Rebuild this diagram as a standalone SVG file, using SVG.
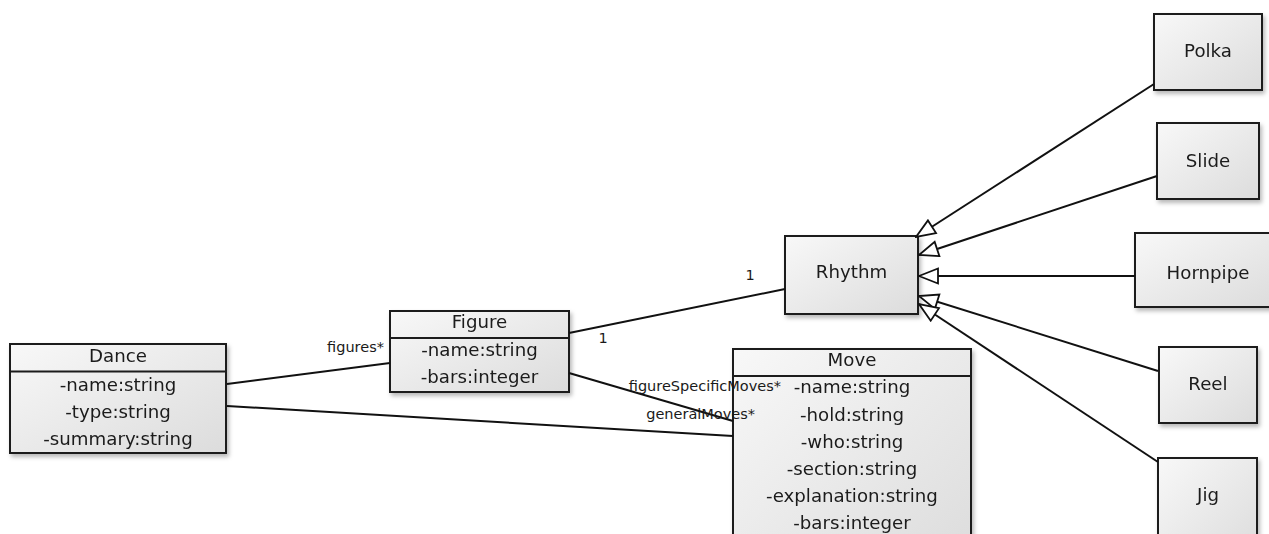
<svg xmlns="http://www.w3.org/2000/svg" width="1269" height="534" viewBox="0 0 1269 534">
  <style>
    .box { fill: url(#boxFill); stroke: #1a1a1a; stroke-width: 2; }
    .div { stroke: #1a1a1a; stroke-width: 2; }
    .t { font-family: "DejaVu Sans", Verdana, sans-serif; font-size: 18.2px; fill: #1a1a1a; text-anchor: middle; }
    .lbl { font-family: "DejaVu Sans", Verdana, sans-serif; font-size: 14.5px; fill: #1a1a1a; }
    .edge { stroke: #111; stroke-width: 2; fill: none; }
    .gen { marker-end: url(#hollowTri); }
  </style>
  <defs>
    <linearGradient id="boxFill" x1="0" y1="0" x2="1" y2="1">
      <stop offset="0" stop-color="#f8f8f8"/>
      <stop offset="1" stop-color="#dcdcdc"/>
    </linearGradient>
    <filter id="shadow" x="-10%" y="-10%" width="130%" height="130%">
      <feDropShadow dx="2" dy="3" stdDeviation="2" flood-color="#000" flood-opacity="0.28"/>
    </filter>
    <marker id="hollowTri" markerWidth="22" markerHeight="18" viewBox="-21 -9 22 18" refX="0" refY="0" orient="auto" markerUnits="userSpaceOnUse">
      <path d="M-19,-7.5 L0,0 L-19,7.5 Z" fill="#fff" stroke="#111" stroke-width="1.8" stroke-linejoin="miter"/>
    </marker>
  </defs>

  <rect width="1269" height="534" fill="#fff"/>

  <g id="dance" filter="url(#shadow)">
    <rect class="box" x="10" y="344" width="216" height="109"/>
    <line class="div" x1="10" y1="371.5" x2="226" y2="371.5"/>
    <text class="t" x="118" y="362">Dance</text>
    <text class="t" x="118" y="391">-name:string</text>
    <text class="t" x="118" y="418">-type:string</text>
    <text class="t" x="118" y="445">-summary:string</text>
  </g>

  <g id="figure" filter="url(#shadow)">
    <rect class="box" x="390" y="311" width="179" height="81"/>
    <line class="div" x1="390" y1="338" x2="569" y2="338"/>
    <text class="t" x="479.5" y="328">Figure</text>
    <text class="t" x="479.5" y="356">-name:string</text>
    <text class="t" x="479.5" y="383">-bars:integer</text>
  </g>

  <g id="move" filter="url(#shadow)">
    <rect class="box" x="733" y="349" width="238" height="215"/>
    <line class="div" x1="733" y1="376" x2="971" y2="376"/>
    <text class="t" x="852" y="366">Move</text>
    <text class="t" x="852" y="393">-name:string</text>
    <text class="t" x="852" y="421">-hold:string</text>
    <text class="t" x="852" y="448">-who:string</text>
    <text class="t" x="852" y="475">-section:string</text>
    <text class="t" x="852" y="502">-explanation:string</text>
    <text class="t" x="852" y="529">-bars:integer</text>
  </g>

  <g id="rhythm" filter="url(#shadow)">
    <rect class="box" x="785" y="236" width="133" height="78"/>
    <text class="t" x="851.5" y="278">Rhythm</text>
  </g>

  <g id="polka" filter="url(#shadow)">
    <rect class="box" x="1154" y="14" width="108" height="76"/>
    <text class="t" x="1208" y="57">Polka</text>
  </g>

  <g id="slide" filter="url(#shadow)">
    <rect class="box" x="1157" y="123" width="102" height="76"/>
    <text class="t" x="1208" y="167">Slide</text>
  </g>

  <g id="hornpipe" filter="url(#shadow)">
    <rect class="box" x="1135" y="233" width="140" height="74"/>
    <text class="t" x="1208" y="279">Hornpipe</text>
  </g>

  <g id="reel" filter="url(#shadow)">
    <rect class="box" x="1159" y="347" width="98" height="76"/>
    <text class="t" x="1208" y="390">Reel</text>
  </g>

  <g id="jig" filter="url(#shadow)">
    <rect class="box" x="1158" y="458" width="99" height="100"/>
    <text class="t" x="1208" y="501">Jig</text>
  </g>

  <!-- associations and generalizations, drawn over the boxes -->
  <g id="connectors">
    <line class="edge" x1="227" y1="384" x2="390" y2="363"/>
    <line class="edge" x1="227" y1="406" x2="733" y2="436"/>
    <line class="edge" x1="569" y1="333" x2="785" y2="289"/>
    <line class="edge" x1="569" y1="373" x2="733" y2="421"/>
    <path class="edge gen" d="M1154,84 L916,237"/>
    <path class="edge gen" d="M1157,176 L919,255"/>
    <path class="edge gen" d="M1135,276 L919,276"/>
    <path class="edge gen" d="M1158,371 L919,296"/>
    <path class="edge gen" d="M1158,462 L919,304"/>
    <text class="lbl" x="384" y="352" text-anchor="end">figures*</text>
    <text class="lbl" x="603" y="343" text-anchor="middle">1</text>
    <text class="lbl" x="750" y="280" text-anchor="middle">1</text>
    <text class="lbl" x="781" y="391" text-anchor="end">figureSpecificMoves*</text>
    <text class="lbl" x="755" y="419" text-anchor="end">generalMoves*</text>
  </g>
</svg>
